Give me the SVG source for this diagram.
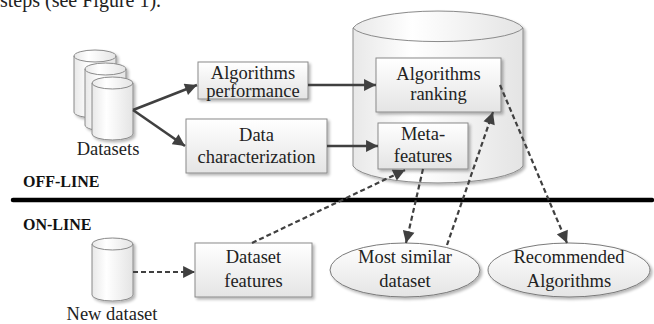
<svg xmlns="http://www.w3.org/2000/svg" width="654" height="324" viewBox="0 0 654 324" font-family="'Liberation Serif', 'DejaVu Serif', serif">
<style>
text{font-family:'Liberation Serif','DejaVu Serif',serif;font-size:18.5px;fill:#222;text-anchor:middle}
.lbl{font-weight:bold;font-size:16px;text-anchor:start;fill:#111}
.box{fill:url(#gBox);stroke:#8a8a8a;stroke-width:1}
.cyl{fill:url(#gCyl);stroke:#8a8a8a;stroke-width:1}
.ell{fill:url(#gBox);stroke:#7a7a7a;stroke-width:1}
.sol{stroke:#404040;stroke-width:2.6;fill:none}
.dash{stroke:#404040;stroke-width:2.2;fill:none;stroke-dasharray:5 3}
</style>
<defs>
<linearGradient id="gBox" x1="0" y1="0" x2="0" y2="1"><stop offset="0" stop-color="#ffffff"/><stop offset="1" stop-color="#e4e4e4"/></linearGradient>
<linearGradient id="gCyl" x1="0" y1="0" x2="1" y2="0"><stop offset="0" stop-color="#e8e8e8"/><stop offset="0.35" stop-color="#ffffff"/><stop offset="1" stop-color="#e4e4e4"/></linearGradient>
<filter id="sh" x="-10%" y="-10%" width="130%" height="130%"><feGaussianBlur in="SourceAlpha" stdDeviation="1.5"/><feOffset dx="2" dy="2"/><feComponentTransfer><feFuncA type="linear" slope="0.3"/></feComponentTransfer><feMerge><feMergeNode/><feMergeNode in="SourceGraphic"/></feMerge></filter>
<marker id="ah" viewBox="0 0 10 10" refX="10" refY="5" markerWidth="5" markerHeight="4.6" orient="auto" markerUnits="strokeWidth"><path d="M0,0 L10,5 L0,10 z" fill="#404040"/></marker>
<marker id="ahd" viewBox="0 0 10 10" refX="10" refY="5" markerWidth="6" markerHeight="5.4" orient="auto" markerUnits="strokeWidth"><path d="M0,0 L10,5 L0,10 z" fill="#404040"/></marker>
</defs>
<text x="0" y="7" style="text-anchor:start;font-size:20px">steps (see Figure 1).</text>
<g id="metadb" filter="url(#sh)">
<path class="cyl" d="M353,28 A86,20 0 0 1 523,28 L523,166 A86,20 0 0 1 353,166 Z"/>
<path d="M353,28 A86,16 0 0 0 523,28" fill="none" stroke="#8a8a8a"/>
</g>
<g id="datasets" filter="url(#sh)">
<path class="cyl" d="M74,56 A21,6 0 0 1 116,56 L116,112 A21,6 0 0 1 74,112 Z"/><path d="M74,56 A21,6 0 0 0 116,56" fill="none" stroke="#8a8a8a"/>
<path class="cyl" d="M85,69 A20.5,6 0 0 1 126,69 L126,125 A20.5,6 0 0 1 85,125 Z"/><path d="M85,69 A20.5,6 0 0 0 126,69" fill="none" stroke="#8a8a8a"/>
<path class="cyl" d="M92,83 A20.5,6 0 0 1 133,83 L133,134 A20.5,6 0 0 1 92,134 Z"/><path d="M92,83 A20.5,6 0 0 0 133,83" fill="none" stroke="#8a8a8a"/>
</g>
<text x="108" y="155">Datasets</text>
<g id="perf"><rect class="box" x="198" y="62" width="110" height="37" filter="url(#sh)"/><text x="253" y="79">Algorithms</text><text x="253" y="97">performance</text></g>
<g id="datachar"><rect class="box" x="186" y="119" width="141" height="54" filter="url(#sh)"/><text x="256.5" y="141">Data</text><text x="256.5" y="163">characterization</text></g>
<g id="ranking"><rect class="box" x="376" y="58" width="125" height="54" filter="url(#sh)"/><text x="438.5" y="80">Algorithms</text><text x="438.5" y="100">ranking</text></g>
<g id="meta"><rect class="box" x="378" y="123" width="90" height="46" filter="url(#sh)"/><text x="423" y="140">Meta-</text><text x="423" y="162">features</text></g>
<line x1="13" y1="200" x2="652" y2="200" stroke="#000" stroke-width="4.5" stroke-linecap="round"/>
<text class="lbl" x="23" y="187">OFF-LINE</text>
<text class="lbl" x="23" y="230">ON-LINE</text>
<g id="newdataset" filter="url(#sh)">
<path class="cyl" d="M92,244 A20.5,6 0 0 1 133,244 L133,295 A20.5,6 0 0 1 92,295 Z"/><path d="M92,244 A20.5,6 0 0 0 133,244" fill="none" stroke="#8a8a8a"/>
</g>
<text x="112" y="320">New dataset</text>
<g id="dsfeat"><rect class="box" x="195" y="243" width="117" height="54" filter="url(#sh)"/><text x="253.5" y="263">Dataset</text><text x="253.5" y="287">features</text></g>
<g id="similar"><ellipse class="ell" cx="405" cy="270" rx="75" ry="27" filter="url(#sh)"/><text x="405" y="263">Most similar</text><text x="405" y="287">dataset</text></g>
<g id="recommended"><ellipse class="ell" cx="569" cy="270" rx="81" ry="27" filter="url(#sh)"/><text x="569" y="263">Recommended</text><text x="569" y="287">Algorithms</text></g>
<g id="connectors">
<line class="sol" x1="133" y1="110" x2="197" y2="85" marker-end="url(#ah)"/>
<line class="sol" x1="133" y1="110" x2="185" y2="146" marker-end="url(#ah)"/>
<line class="sol" x1="308" y1="85" x2="376" y2="85" marker-end="url(#ah)"/>
<line class="sol" x1="327" y1="146" x2="378" y2="146" marker-end="url(#ah)"/>
<line class="dash" x1="133" y1="272" x2="195" y2="272" marker-end="url(#ahd)"/>
<line class="dash" x1="252" y1="243" x2="405" y2="170" marker-end="url(#ahd)"/>
<line class="dash" x1="423" y1="169" x2="406" y2="243" marker-end="url(#ahd)"/>
<line class="dash" x1="447" y1="245" x2="493" y2="112" marker-end="url(#ahd)"/>
<line class="dash" x1="500" y1="85" x2="567" y2="243" marker-end="url(#ahd)"/>
</g>
</svg>
